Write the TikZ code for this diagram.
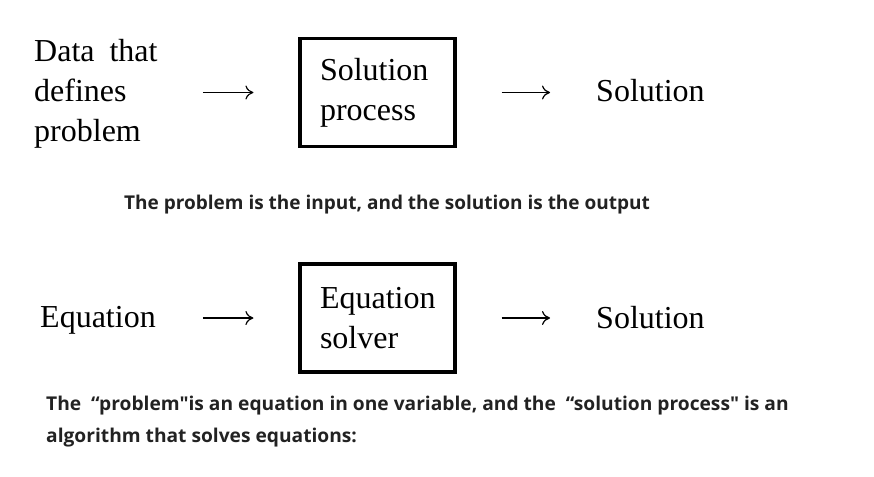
\documentclass[tikz,border=0pt]{standalone}
\usepackage{fontspec}
\setmainfont{Liberation Serif}
\newfontfamily\capfont{Open Sans}
\usetikzlibrary{arrows.meta}
\definecolor{captext}{HTML}{222222}
\begin{document}
\begin{tikzpicture}[x=1pt,y=1pt,
  serif/.style={font=\fontsize{32}{40}\selectfont, inner sep=0pt, align=left},
  procbox/.style={draw, line width=3.2pt, minimum width=155pt, minimum height=108pt,
     text width=115pt, inner xsep=20pt, align=left, font=\fontsize{32}{40}\selectfont},
  conn/.style={line width=1.2pt, -{To[length=8pt,width=14pt]}},
  caption/.style={text=captext, font=\capfont\bfseries\fontsize{19}{32}\selectfont, inner sep=0pt, anchor=west, align=left}]
\useasboundingbox (0,0) rectangle (874,-476);
% top row
\node[serif, anchor=west] (data) at (34,-93.5) {Data\hspace{7pt} that\\defines\\problem};
\node[procbox] (proc) at (377.5,-92.5) {Solution\\process};
\node[serif, anchor=west] (sol1) at (596,-91) {Solution};
\draw[conn, shorten <=45pt, shorten >=45pt] (data.east |- proc.west) -- (proc.west);
\draw[conn, shorten <=45pt, shorten >=46pt] (proc.east) -- (sol1.west |- proc.east);
\node[caption] (cap1) at (124,-205) {The problem is the input, and the solution is the output};
% bottom row
\node[serif, anchor=west] (eq) at (40,-320) {Equation};
\node[procbox] (solver) at (377.5,-318) {Equation\\solver};
\node[serif, anchor=west] (sol2) at (596,-318) {Solution};
\draw[conn, shorten <=47pt, shorten >=45pt] (eq.east |- solver.west) -- (solver.west);
\draw[conn, shorten <=45pt, shorten >=46pt] (solver.east) -- (sol2.west |- solver.east);
\node[caption, xscale=1.01, transform shape, anchor=north west] (cap2) at (46,-396)
  {The \ “problem"is an equation in one variable, and the \ “solution process" is an\\algorithm that solves equations:};
\end{tikzpicture}
\end{document}
